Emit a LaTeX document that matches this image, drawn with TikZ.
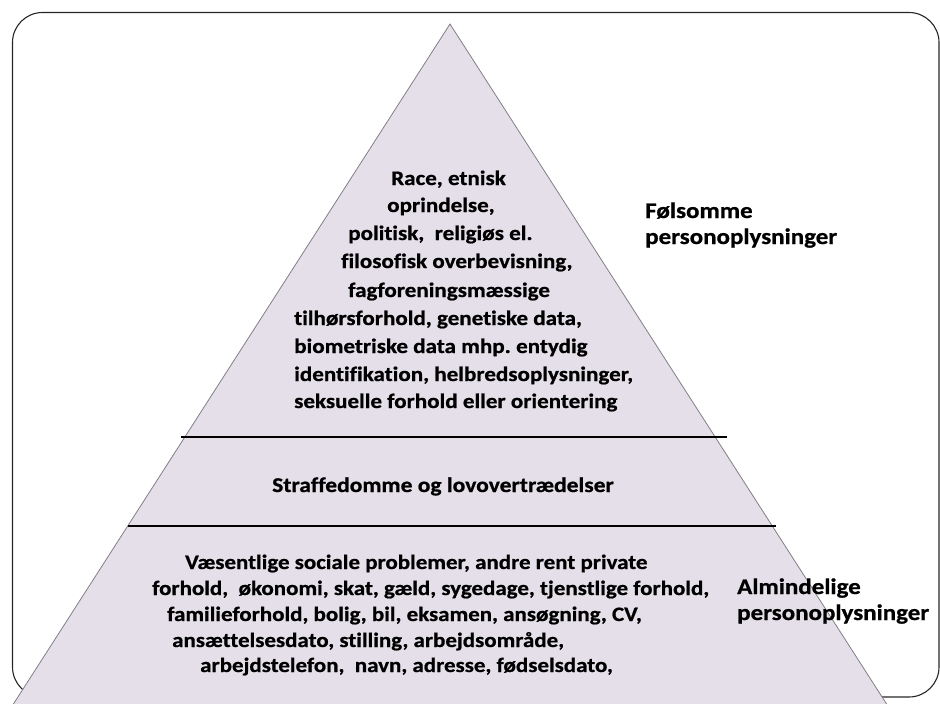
\documentclass[tikz,border=0pt]{standalone}
\usepackage{fontspec}
\setmainfont{Carlito}[FakeStretch=1.12,Ligatures=NoCommon,BoldFeatures={FakeBold=0.8}]
\definecolor{pyrfill}{RGB}{229,223,233}
\definecolor{pyredge}{RGB}{130,126,134}
\frenchspacing
\begin{document}
\begin{tikzpicture}[x=1pt,y=-1pt,
  txt/.style={anchor=base west,inner sep=0pt,font=\bfseries\frenchspacing\fontsize{20.6}{28}\selectfont},
  txtm/.style={anchor=base west,inner sep=0pt,font=\bfseries\frenchspacing\fontsize{21}{28}\selectfont},
  txtl/.style={anchor=base west,inner sep=0pt,font=\bfseries\frenchspacing\fontsize{20.5}{25}\selectfont},
  lbl/.style={anchor=base west,inner sep=0pt,font=\bfseries\frenchspacing\fontsize{22.3}{26}\selectfont},
  sep/.style={draw=black,line width=1.4pt}]
\useasboundingbox (0,0) rectangle (940,704);
\begin{scope}
\clip (0,0) rectangle (940,704);
\draw[black!85,line width=1.1pt,rounded corners=30pt] (12.5,12.5) rectangle (939,697);
\coordinate (apex) at (450,24);
\coordinate (bl) at (7,714);
\coordinate (br) at (893,714);
\filldraw[fill=pyrfill,draw=pyredge,line width=0.8pt] (apex) -- (br) -- (bl) -- cycle;
\coordinate (l1a) at (181,437);
\coordinate (l1b) at (727,437);
\coordinate (l2a) at (128,526);
\coordinate (l2b) at (776,526);
\draw[sep] (l1a) -- (l1b);
\draw[sep] (l2a) -- (l2b);
\end{scope}
% top block
\node[txt] (t1) at (391,185) {Race, etnisk};
\node[txt] (t2) at (387,212) {oprindelse,};
\node[txt] (t3) at (348,240) {politisk,\ \ religiøs el.};
\node[txt] (t4) at (341,268) {filosofisk overbevisning,};
\node[txt] (t5) at (348,297) {fagforeningsmæssige};
\node[txt] (t6) at (294,325) {tilhørsforhold, genetiske data,};
\node[txt] (t7) at (294,353) {biometriske data mhp. entydig};
\node[txt] (t8) at (294,381) {identifikation, helbredsoplysninger,};
\node[txt] (t9) at (294,408) {seksuelle forhold eller orientering};
% middle
\node[txtm] (m1) at (272,492) {Straffedomme og lovovertrædelser};
% bottom block
\node[txtl] (b1) at (185,569) {Væsentlige sociale problemer, andre rent private};
\node[txtl] (b2) at (152,595) {forhold,\ \ økonomi, skat, gæld, sygedage, tjenstlige forhold,};
\node[txtl] (b3) at (167,621) {familieforhold, bolig, bil, eksamen, ansøgning, CV,};
\node[txtl] (b4) at (172,647) {ansættelsesdato, stilling, arbejdsområde,};
\node[txtl] (b5) at (200,672) {arbejdstelefon,\ \ navn, adresse, fødselsdato,};
% right labels
\node[lbl] (r1) at (645,218) {Følsomme};
\node[lbl] (r2) at (645,244) {personoplysninger};
\node[lbl] (r3) at (737,594) {Almindelige};
\node[lbl] (r4) at (737,620) {personoplysninger};
\end{tikzpicture}
\end{document}
